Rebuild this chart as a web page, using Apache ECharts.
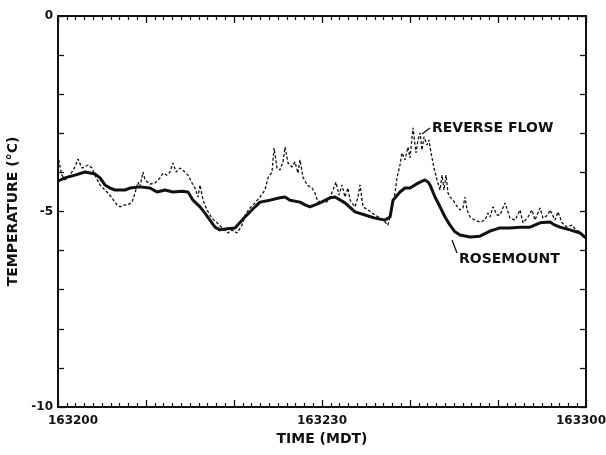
<!DOCTYPE html>
<html>
<head>
<meta charset="utf-8">
<script src="https://cdn.jsdelivr.net/npm/echarts@6/dist/echarts.min.js"></script>
<style>
  html, body { margin: 0; padding: 0; background: #fff; }
  #chart { width: 606px; height: 455px; }
</style>
</head>
<body>
<div id="chart"></div>
<script>
// time in seconds after 16:32:00 MDT, temperature in °C
const rosemountTime = [0, 0.8, 1.93, 3.07, 4.2, 4.77, 5.34, 5.91, 6.48, 7.05, 7.61, 8.18, 9.32, 10.45, 11.25, 12.16, 13.07, 14.09, 14.77, 15.34, 16.14, 16.7, 17.27, 17.84, 18.41, 18.98, 20.11, 21.25, 22.39, 22.95, 24.09, 25.23, 25.8, 26.36, 27.5, 28.07, 28.64, 29.77, 30.91, 31.48, 32.61, 33.75, 34.89, 36.02, 37.16, 37.73, 38.07, 38.86, 39.43, 40, 40.57, 41.14, 41.7, 42.05, 42.27, 42.84, 43.41, 43.98, 44.55, 45.11, 45.68, 46.82, 47.95, 49.09, 50.23, 51.36, 52.5, 53.64, 54.77, 55.91, 56.48, 57.05, 58.18, 59.32, 60];
const rosemountTemp = [-4.22, -4.14, -4.07, -3.99, -4.04, -4.14, -4.32, -4.4, -4.45, -4.45, -4.45, -4.4, -4.37, -4.4, -4.5, -4.45, -4.5, -4.48, -4.5, -4.71, -4.88, -5.04, -5.22, -5.4, -5.47, -5.45, -5.42, -5.14, -4.88, -4.76, -4.71, -4.65, -4.63, -4.71, -4.76, -4.83, -4.88, -4.78, -4.65, -4.63, -4.78, -5.01, -5.09, -5.17, -5.22, -5.14, -4.71, -4.5, -4.4, -4.4, -4.32, -4.25, -4.19, -4.25, -4.32, -4.63, -4.88, -5.14, -5.35, -5.52, -5.6, -5.65, -5.63, -5.5, -5.42, -5.42, -5.4, -5.4, -5.29, -5.27, -5.35, -5.4, -5.47, -5.55, -5.68];

const reverseTime = [0, 0.23, 0.45, 0.8, 1.36, 1.93, 2.27, 2.73, 3.41, 3.86, 4.2, 4.77, 5.34, 5.68, 6.14, 6.7, 7.05, 7.61, 7.95, 8.41, 8.75, 9.09, 9.32, 9.66, 9.89, 10.45, 11.02, 11.59, 11.93, 12.39, 12.73, 13.07, 13.41, 13.86, 14.43, 14.77, 15.23, 15.57, 15.91, 16.14, 16.48, 16.93, 17.5, 18.07, 18.64, 19.32, 19.77, 20.34, 20.91, 21.25, 21.82, 22.39, 22.95, 23.52, 23.86, 24.32, 24.55, 24.89, 25.23, 25.57, 25.8, 26.14, 26.59, 26.93, 27.27, 27.5, 27.84, 28.3, 28.86, 29.2, 29.55, 30, 30.45, 30.91, 31.25, 31.59, 31.93, 32.27, 32.61, 32.95, 33.18, 33.75, 34.09, 34.32, 34.66, 35.23, 36.02, 36.59, 37.16, 37.5, 37.95, 38.3, 38.52, 38.86, 39.09, 39.43, 39.77, 40, 40.34, 40.68, 40.91, 41.14, 41.36, 41.59, 41.93, 42.16, 42.39, 42.73, 43.07, 43.41, 43.64, 43.86, 44.09, 44.32, 44.55, 44.89, 45.23, 45.68, 46.02, 46.25, 46.48, 46.82, 47.39, 47.95, 48.52, 48.86, 49.09, 49.43, 49.89, 50.23, 50.8, 51.36, 51.93, 52.5, 52.84, 53.41, 53.86, 54.2, 54.77, 55.11, 55.68, 55.91, 56.48, 56.82, 57.27, 57.84, 58.41, 58.86, 59.32, 60];
const reverseTemp = [-3.55, -3.86, -4.07, -4.19, -4.07, -3.86, -3.66, -3.89, -3.81, -3.89, -4.07, -4.32, -4.45, -4.53, -4.65, -4.83, -4.88, -4.83, -4.83, -4.76, -4.53, -4.25, -4.37, -3.99, -4.19, -4.3, -4.27, -4.14, -4.02, -4.07, -3.99, -3.76, -3.99, -3.89, -3.99, -4.07, -4.27, -4.4, -4.63, -4.32, -4.71, -4.96, -5.17, -5.29, -5.42, -5.55, -5.47, -5.55, -5.35, -5.09, -4.91, -4.78, -4.63, -4.45, -4.14, -3.99, -3.38, -3.89, -3.94, -3.73, -3.35, -3.76, -3.86, -3.73, -4.02, -3.68, -4.12, -4.32, -4.4, -4.53, -4.76, -4.71, -4.78, -4.63, -4.45, -4.25, -4.58, -4.32, -4.63, -4.4, -4.71, -4.88, -4.63, -4.32, -4.88, -4.96, -5.09, -5.17, -5.27, -5.35, -4.88, -4.53, -4.14, -3.81, -3.5, -3.68, -3.35, -3.63, -2.86, -3.5, -3.17, -2.99, -3.43, -3.09, -3.3, -3.17, -3.5, -3.89, -4.19, -4.45, -4.07, -4.45, -4.07, -4.53, -4.63, -4.71, -4.83, -4.96, -4.91, -4.63, -4.96, -5.14, -5.22, -5.27, -5.22, -5.04, -5.14, -4.88, -5.09, -5.09, -4.78, -5.17, -5.22, -4.96, -5.29, -5.14, -4.96, -5.22, -4.91, -5.17, -5.09, -4.96, -5.22, -5.01, -5.29, -5.4, -5.35, -5.47, -5.52, -5.68];

const xLabelSeconds = [0, 30, 60];
const xTickLabels = ["163200", "163230", "163300"];
const yLabelValues = [0, -5, -10];
const yTickLabels = ["0", "-5", "-10"];

const font = "DejaVu Sans";
const ink = "#111";

function pairs(xs, ys) {
  return xs.map((x, i) => [x, ys[i]]);
}

function xAxisBase(position, showLabels) {
  const labelStyle = { fontFamily: font, fontWeight: "bold", fontSize: 12, color: ink };
  return {
    type: "value",
    position,
    min: 0,
    max: 60,
    interval: 10,
    name: showLabels ? "TIME (MDT)" : "",
    nameLocation: "middle",
    nameGap: 24,
    nameTextStyle: { fontFamily: font, fontWeight: "bold", fontSize: 14, color: ink },
    axisLine: { show: true, onZero: false, lineStyle: { color: ink, width: 2 } },
    axisTick: { show: true, inside: true, length: 7, lineStyle: { color: ink, width: 1.3 } },
    minorTick: { show: true, splitNumber: 10, length: 4, lineStyle: { color: ink, width: 1.2 } },
    splitLine: { show: false },
    axisLabel: {
      show: showLabels,
      margin: 8,
      ...labelStyle,
      formatter: (v) => {
        const i = xLabelSeconds.indexOf(v);
        if (i < 0) return "";
        if (i === 0) return `{first|${xTickLabels[i]}}`;
        if (i === xTickLabels.length - 1) return `{last|${xTickLabels[i]}}`;
        return xTickLabels[i];
      },
      rich: {
        first: { padding: [0, 0, 0, 30], ...labelStyle },
        last: { padding: [0, 10, 0, 0], ...labelStyle },
      },
    },
  };
}

function yAxisBase(position, showLabels) {
  return {
    type: "value",
    position,
    min: -10,
    max: 0,
    interval: 1,
    name: showLabels ? "TEMPERATURE (°C)" : "",
    nameLocation: "middle",
    nameGap: 36,
    nameRotate: 90,
    nameTextStyle: { fontFamily: font, fontWeight: "bold", fontSize: 14, color: ink },
    axisLine: { show: true, onZero: false, lineStyle: { color: ink, width: 2 } },
    axisTick: { show: true, inside: true, length: 6, lineStyle: { color: ink, width: 1.3 } },
    splitLine: { show: false },
    axisLabel: {
      show: showLabels,
      margin: 5,
      fontFamily: font,
      fontWeight: "bold",
      fontSize: 12,
      color: ink,
      formatter: (v) => {
        const i = yLabelValues.indexOf(v);
        return i < 0 ? "" : yTickLabels[i];
      },
    },
  };
}

const chart = echarts.init(document.getElementById("chart"), null, { renderer: "canvas" });

chart.setOption({
  backgroundColor: "#fff",
  animation: false,
  grid: { left: 58, right: 20, top: 16, bottom: 48, outerBoundsMode: "none", containLabel: false },
  xAxis: [xAxisBase("bottom", true), xAxisBase("top", false)],
  yAxis: [yAxisBase("left", true), yAxisBase("right", false)],
  series: [
    {
      name: "ROSEMOUNT",
      type: "line",
      xAxisIndex: 0,
      yAxisIndex: 0,
      showSymbol: false,
      lineStyle: { color: ink, width: 3 },
      data: pairs(rosemountTime, rosemountTemp),
    },
    {
      name: "REVERSE FLOW",
      type: "line",
      xAxisIndex: 0,
      yAxisIndex: 0,
      showSymbol: false,
      lineStyle: { color: ink, width: 1.3, type: [3, 2] },
      data: pairs(reverseTime, reverseTemp),
    },
  ],
  graphic: [
    { type: "line", shape: { x1: 422, y1: 134, x2: 430, y2: 128 }, style: { stroke: ink, lineWidth: 1.3 } },
    {
      type: "text",
      left: 432,
      top: 121,
      style: { text: "REVERSE FLOW", fill: ink, font: `bold 14px "${font}"` },
    },
    { type: "line", shape: { x1: 452, y1: 240, x2: 457, y2: 253 }, style: { stroke: ink, lineWidth: 1.3 } },
    {
      type: "text",
      left: 459,
      top: 252,
      style: { text: "ROSEMOUNT", fill: ink, font: `bold 14px "${font}"` },
    },
  ],
});
</script>
</body>
</html>
